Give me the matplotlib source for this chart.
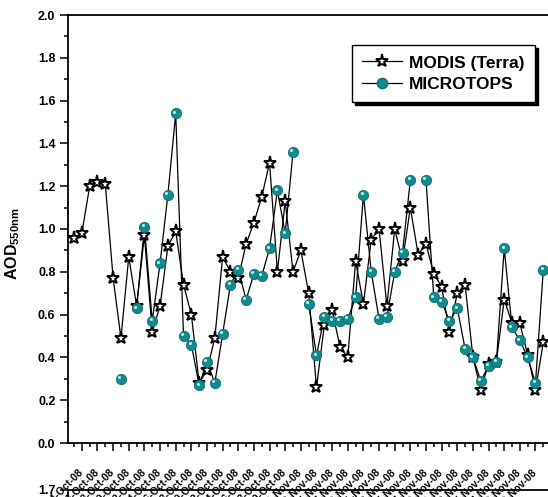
"""
AOD 550 nm: MODIS (Terra) vs MICROTOPS, Oct-Nov 2008
"""
import numpy as np
import matplotlib.pyplot as plt
import matplotlib.transforms as mtransforms
from matplotlib.ticker import MultipleLocator, FixedLocator

plt.rcParams['font.family'] = ['Liberation Sans', 'DejaVu Sans']
plt.rcParams['font.weight'] = 'bold'
plt.rcParams['mathtext.fontset'] = 'custom'
plt.rcParams['mathtext.rm'] = 'Liberation Sans:bold'
plt.rcParams['mathtext.bf'] = 'Liberation Sans:bold'

nan = np.nan

# one value per day (61 days)
modis = [0.96, 0.98, 1.20, 1.22, 1.21, 0.77, 0.49, 0.87, 0.64, 0.97,
         0.52, 0.64, 0.92, 0.99, 0.74, 0.60, 0.28, 0.34, 0.49, 0.87,
         0.80, 0.77, 0.93, 1.03, 1.15, 1.31, 0.80, 1.13, 0.80, 0.90,
         0.70, 0.26, 0.55, 0.62, 0.45, 0.40, 0.85, 0.65, 0.95, 1.00,
         0.64, 1.00, 0.85, 1.10, 0.88, 0.93, 0.79, 0.73, 0.52, 0.70,
         0.74, 0.40, 0.25, 0.37, 0.38, 0.67, 0.56, 0.56, 0.41, 0.25,
         0.47]

microtops = [nan, nan, nan, nan, nan, nan, 0.30, nan, 0.63, 1.01,
             0.57, 0.84, 1.16, 1.54, 0.50, 0.46, 0.27, 0.38, 0.28, 0.51,
             0.74, 0.81, 0.67, 0.79, 0.78, 0.91, 1.18, 0.98, 1.36, nan,
             0.65, 0.41, 0.59, 0.57, 0.57, 0.58, 0.68, 1.16, 0.80, 0.58,
             0.59, 0.80, 0.89, 1.23, nan, 1.23, 0.68, 0.66, 0.57, 0.63,
             0.44, 0.40, 0.29, 0.36, 0.38, 0.91, 0.54, 0.48, 0.40, 0.28,
             0.81]

# labels on every second day
tick_labels = ['04-Oct-08', '06-Oct-08', '08-Oct-08', '10-Oct-08', '12-Oct-08',
               '14-Oct-08', '16-Oct-08', '18-Oct-08', '20-Oct-08', '22-Oct-08',
               '24-Oct-08', '26-Oct-08', '28-Oct-08', '30-Oct-08',
               '01-Nov-08', '03-Nov-08', '05-Nov-08', '07-Nov-08', '09-Nov-08',
               '11-Nov-08', '13-Nov-08', '15-Nov-08', '17-Nov-08', '19-Nov-08',
               '21-Nov-08', '23-Nov-08', '25-Nov-08', '27-Nov-08', '29-Nov-08',
               '30-Nov-08']

teal = '#138b8d'

fig = plt.figure(figsize=(5.48, 4.97), dpi=100)
W, H = 548.0, 497.0
ax = fig.add_axes([68 / W, 1 - 443 / H, (566 - 68) / W, (443 - 15) / H])

x = np.arange(len(modis))
ax.plot(x, modis, color='black', lw=0.9, marker='*', ms=9.5,
        mfc='white', mec='black', mew=1.4, zorder=3, label='MODIS (Terra)')
ax.plot(x, microtops, color='black', lw=0.9, zorder=2)
ax.plot(x, microtops, ls='none', marker='o', ms=7.4, mfc=teal, mec='#0d6f71',
        mew=0.6, zorder=4)
# little highlight on the balls
hl = mtransforms.offset_copy(ax.transData, fig=fig, x=-1.6, y=1.6, units='dots')
ax.plot(x, microtops, ls='none', marker='o', ms=2.2, mfc='#bfeeee', mec='none',
        transform=hl, zorder=5)

ax.set_ylim(0, 2.0)
ax.set_xlim(-0.77, 62.9)
ax.yaxis.set_major_locator(MultipleLocator(0.2))
ax.yaxis.set_minor_locator(MultipleLocator(0.1))
ax.set_yticklabels([f'{v:.1f}' for v in ax.get_yticks()])

ax.xaxis.set_major_locator(FixedLocator(np.arange(1, 61, 2)))
ax.xaxis.set_minor_locator(FixedLocator(np.arange(0, 63, 2)))
ax.set_xticklabels(tick_labels, rotation=45, ha='right', va='center',
                   rotation_mode='anchor', fontsize=7.5, fontweight='bold')

ax.tick_params(axis='y', which='major', direction='out', length=6, width=1.1,
               labelsize=9, pad=3)
ax.tick_params(axis='y', which='minor', direction='out', length=3, width=1.1)
ax.tick_params(axis='x', which='major', direction='out', length=6, width=1.1,
               pad=14)
ax.tick_params(axis='x', which='minor', direction='out', length=3, width=1.1)
for lab in ax.get_yticklabels():
    lab.set_fontweight('bold')

for side in ['left', 'bottom', 'top']:
    ax.spines[side].set_linewidth(1.3)
ax.spines['right'].set_visible(False)

fig.text(13 / W, 1 - 244 / H, r'$\mathbf{AOD_{550nm}}$', rotation=90,
         ha='center', va='center', fontsize=11.5)

leg = ax.legend(handles=[ax.lines[0],
                         plt.Line2D([], [], color='black', lw=0.9, marker='o',
                                    ms=7.4, mfc=teal, mec='#0d6f71')],
                labels=['MODIS (Terra)', 'MICROTOPS'],
                loc='upper left', bbox_to_anchor=(352 / W, 1 - 45 / H),
                bbox_transform=fig.transFigure, frameon=True, fancybox=False,
                shadow={'color': 'black', 'alpha': 1}, edgecolor='black',
                prop={'size': 12.5, 'weight': 'bold'}, handlelength=2.3,
                handletextpad=0.4, borderpad=0.6, labelspacing=0.35,
                borderaxespad=0)
leg.get_frame().set_linewidth(1.0)

# top of the next panel, cut off by the figure edge
ax2 = fig.add_axes([68 / W, -0.4, (566 - 68) / W, 0.4 + 7 / H])
ax2.set_ylim(0, 1.7)
ax2.set_yticks([1.7])
ax2.set_yticklabels(['1.7'])
ax2.set_xticks([])
ax2.tick_params(axis='y', direction='out', length=6, width=1.1, labelsize=9, pad=3)
for lab in ax2.get_yticklabels():
    lab.set_fontweight('bold')
for side in ['left', 'top']:
    ax2.spines[side].set_linewidth(1.3)
ax2.spines['right'].set_visible(False)
ax2.spines['bottom'].set_visible(False)
ax2.patch.set_alpha(0)

fig.savefig('out.png', dpi=100)
